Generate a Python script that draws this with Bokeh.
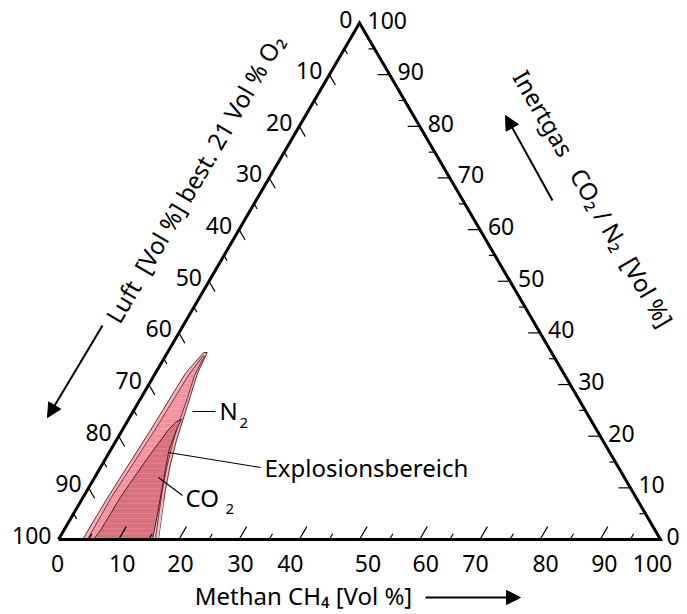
import math
from bokeh.plotting import figure
from bokeh.models import Range1d, Arrow, NormalHead
from bokeh.core.properties import value
from bokeh.embed import file_html
from bokeh.resources import INLINE

# ---------------- data ----------------
major_ticks = [0, 10, 20, 30, 40, 50, 60, 70, 80, 90, 100]
minor_ticks = [5, 15, 25, 35, 45, 55, 65, 75, 85, 95]
tick_labels = ["0", "10", "20", "30", "40", "50", "60", "70", "80", "90", "100"]

# explosion region with N2 dilution (methane %, inert gas %)
n2_outer_methane = [4.0, 4.1, 4.7, 5.0, 6.0, 6.6, 7.0, 8.0, 9.1, 10.0, 11.4, 13.0, 14.8, 16.6]
n2_outer_inert = [0.0, 8.1, 21.1, 32.2, 36.2, 36.2, 32.2, 27.9, 23.1, 19.2, 14.3, 9.5, 4.7, 0.0]
n2_inner_methane = [4.8, 4.7, 5.4, 5.7, 6.2, 6.5, 6.7, 7.7, 8.6, 9.5, 10.9, 12.5, 14.3, 16.1]
n2_inner_inert = [0.0, 8.1, 21.1, 31.8, 35.5, 35.5, 31.8, 27.5, 23.1, 19.2, 14.3, 9.5, 4.7, 0.0]
# explosion region with CO2 dilution
co2_methane = [5.8, 6.1, 6.2, 6.8, 7.6, 8.1, 8.8, 9.0, 9.7, 11.9, 14.2, 15.6]
co2_inert = [0.0, 1.7, 8.1, 14.7, 21.1, 22.7, 23.3, 21.1, 17.3, 10.9, 4.3, 0.0]
# pale strip between the CO2 and N2 borders near the base
band_methane = [15.7, 16.6, 14.8, 13.7, 14.2]
band_inert = [0.0, 0.0, 4.6, 7.6, 4.3]

# ---------------- layout ----------------
W, H = 687, 614
SX, SY = 6.02, 5.165          # px per percent
OX, OY = 58, 539              # canvas px of the (0 % CH4, 0 % inert) corner

FONT = value("Noto Sans")
TXT = "24px"
NUM = "23px"


def tern(m, i):
    """ternary (methane, inert) -> cartesian data coords"""
    return [a + b / 2.0 for a, b in zip(m, i)], list(i)


def pos(xr, yr):
    """canvas pixel -> data coords (layout helper)"""
    return (xr - OX) / SX, (OY - yr) / SY


def dpx(dx, dy):
    """pixel offset (screen, y down) -> data offset"""
    return dx / SX, -dy / SY


p = figure(width=W, height=H, output_backend="svg", toolbar_location=None,
           x_range=Range1d(-OX / SX, (W - OX) / SX),
           y_range=Range1d(-(H - OY) / SY, OY / SY),
           x_axis_type=None, y_axis_type=None, min_border=0,
           outline_line_color=None, background_fill_color="white",
           border_fill_color="white")
p.grid.visible = False

# ---- explosion regions ----
x, y = tern(n2_outer_methane, n2_outer_inert)
p.patch(x, y, fill_color="#f7b0b9", line_color="#4a1e24", line_width=0.9)
x, y = tern(n2_inner_methane, n2_inner_inert)
p.patch(x, y, fill_color="#f2939f", line_color=None,
        hatch_pattern="horizontal_line", hatch_color="white", hatch_alpha=0.18,
        hatch_scale=5, hatch_weight=1)
xb, yb = tern(band_methane, band_inert)
p.patch(xb, yb, fill_color="#e9c5c8", line_color=None)
p.line(x + [x[0]], y + [y[0]], line_color="#4a1e24", line_width=0.8)
x, y = tern(co2_methane, co2_inert)
p.patch(x, y, fill_color="#d9707d", line_color="#3a1418", line_width=0.9,
        hatch_pattern="horizontal_line", hatch_color="white", hatch_alpha=0.12,
        hatch_scale=5, hatch_weight=1)

# ---- triangle ----
tx, ty = tern([0, 100, 0, 0], [0, 0, 100, 0])
p.line(tx, ty, line_color="black", line_width=3, line_join="miter")

# ---- ticks ----
x0, y0, x1, y1 = [], [], [], []
for v in major_ticks[1:-1] + minor_ticks:
    t = 2.5 if v % 10 == 0 else 1.1
    t2 = 2.0 if v % 10 == 0 else 1.0
    ii = 100 - v
    for (a, b), (c, d) in [((v, 0), (v + t / 2, t)),                          # methane
                           ((ii / 2, ii), (t2 + (ii - t2) / 2, ii - t2)),      # air
                           ((100 - v / 2, v), (100 - v / 2 - t2, v))]:         # inert
        x0.append(a); y0.append(b); x1.append(c); y1.append(d)
p.segment(x0, y0, x1, y1, line_color="black", line_width=1.2)

# ---- tick labels ----
bottom_nudge = [-1, 3.5, 1.5, 1.5, -9, 8.5, 6, -4.5, 5.5, 4, -8]
bx, by = [], []
for v, n in zip(major_ticks, bottom_nudge):
    dx, dy = dpx(n, 24)
    bx.append(v + dx); by.append(dy)
p.text(bx, by, text=tick_labels, text_font=FONT, text_font_size=NUM,
       text_align="center", text_baseline="middle", text_color="black")

lx, ly = [], []
for v in major_ticks:
    ii = 100 - v
    dx, dy = dpx(-7, -4)
    lx.append(ii / 2 + dx); ly.append(ii + dy)
p.text(lx, ly, text=tick_labels, text_font=FONT, text_font_size=NUM,
       text_align="right", text_baseline="middle", text_color="black")

rx, ry = [], []
for v in major_ticks:
    dx, dy = dpx(8 if v > 0 else 6, -3)
    rx.append(100 - v / 2 + dx); ry.append(v + dy)
p.text(rx, ry, text=tick_labels, text_font=FONT, text_font_size=NUM,
       text_align="left", text_baseline="middle", text_color="black")

# ---- axis titles ----
ang = math.atan2(516.5, 301.0)
cx, cy = pos(194, 178)
p.text([cx], [cy], text=["Luft\u00a0 [Vol %] best. 21 Vol % O\u2082"], angle=ang,
       text_font=FONT, text_font_size=TXT, text_align="center",
       text_baseline="middle", text_color="black")
cx, cy = pos(593, 198)
p.text([cx], [cy], text=["Inertgas\u00a0\u00a0 CO\u2082 / N\u2082\u00a0 [Vol %]"], angle=-ang,
       text_font=FONT, text_font_size=TXT, text_align="center",
       text_baseline="middle", text_color="black")
cx, cy = pos(303, 595)
p.text([cx], [cy], text=["Methan CH\u2084 [Vol %]"],
       text_font=FONT, text_font_size=TXT, text_align="center",
       text_baseline="middle", text_color="black")

# arrows
head = dict(size=14, fill_color="black", line_color="black")
for (xa, ya), (xb2, yb2) in [((102, 325), (47, 417)), ((552, 200), (505, 115)),
                             ((425, 597), (520, 597))]:
    s = pos(xa, ya); e = pos(xb2, yb2)
    p.add_layout(Arrow(end=NormalHead(**head), x_start=s[0], y_start=s[1],
                       x_end=e[0], y_end=e[1], line_width=2, line_color="black"))

# ---- region annotations ----
leaders = [((192, 411), (215, 411)), ((168, 452), (260, 467)), ((158, 477), (182, 495))]
for a, b in leaders:
    s = pos(*a); e = pos(*b)
    p.line([s[0], e[0]], [s[1], e[1]], line_color="black", line_width=1.2)

big = [("N", (219, 410)), ("Explosionsbereich", (264, 467)), ("CO", (185, 497))]
for t, (xr, yr) in big:
    cx, cy = pos(xr, yr)
    p.text([cx], [cy], text=[t], text_font=FONT, text_font_size=TXT,
           text_align="left", text_baseline="middle", text_color="black")
small = [("2", (239, 422)), ("2", (225, 508))]
for t, (xr, yr) in small:
    cx, cy = pos(xr, yr)
    p.text([cx], [cy], text=[t], text_font=FONT, text_font_size="15px",
           text_align="left", text_baseline="middle", text_color="black")

open("out.html", "w").write(file_html(p, INLINE))
